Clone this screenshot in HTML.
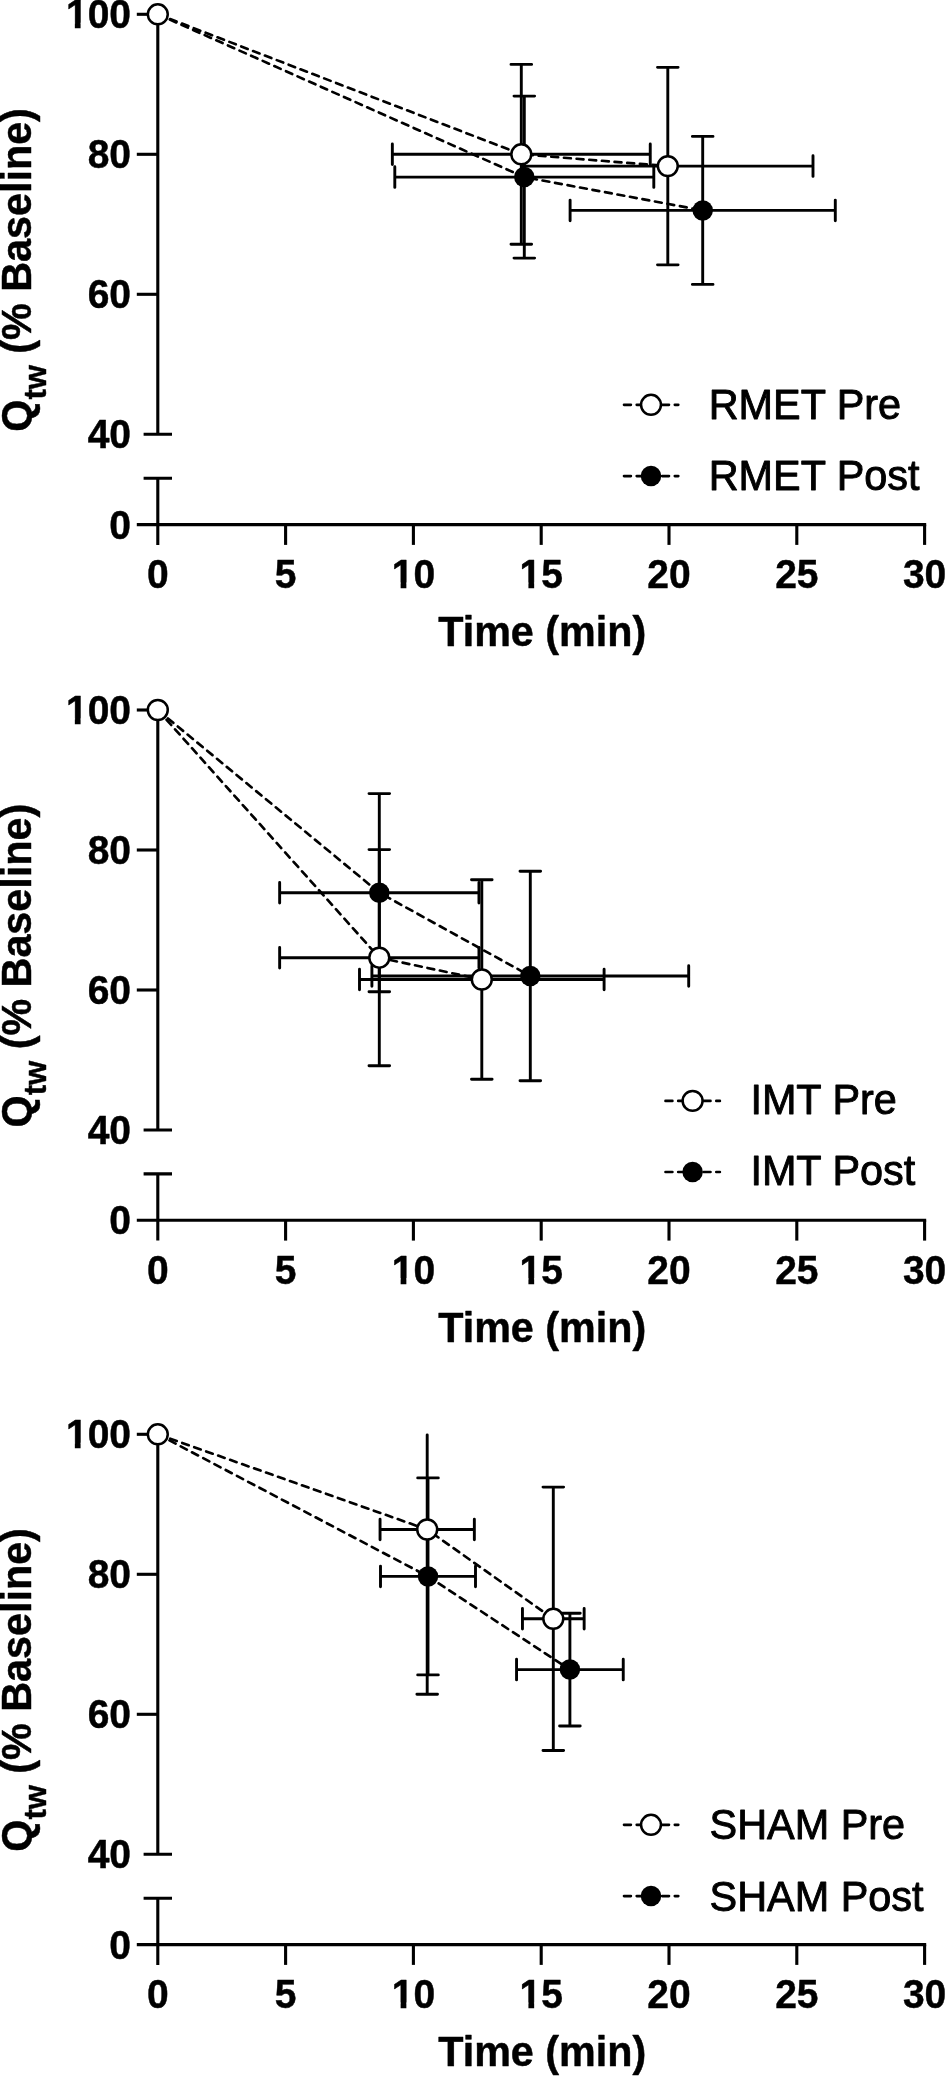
<!DOCTYPE html>
<html><head><meta charset="utf-8"><title>Qtw vs Time</title>
<style>html,body{margin:0;padding:0;background:#fff}svg{display:block;filter:grayscale(1)}text{font-family:"Liberation Sans",sans-serif;fill:#000;stroke:#000;stroke-width:0.9;stroke-linejoin:round}.b{font-weight:bold;stroke-width:0.45}.ax{stroke:#000;stroke-width:3.1;fill:none;stroke-linecap:butt}.eb{stroke:#000;stroke-width:2.9;fill:none;stroke-linecap:round}.dl{stroke:#000;stroke-width:2.65;fill:none;stroke-linecap:round;stroke-dasharray:6.9 5.8;stroke-dashoffset:-0.5}.oc{fill:#fff;stroke:#000;stroke-width:2.5}.fc{fill:#000;stroke:none}</style></head><body>
<svg width="945" height="2076" viewBox="0 0 945 2076">
<rect width="945" height="2076" fill="#fff"/>
<g transform="translate(0,0.00)">
<path class="ax" d="M136.8 524.60 H926.2"/>
<path class="ax" d="M157.8 14.3 V434.3 M157.8 478.2 V544.90"/>
<path class="ax" d="M143.6 434.3 H172 M143.6 478.2 H172"/>
<path class="ax" d="M136.8 14.30 H157.8"/>
<path class="ax" d="M136.8 154.30 H157.8"/>
<path class="ax" d="M136.8 294.30 H157.8"/>
<path class="ax" d="M285.60 524.60 V544.90"/>
<path class="ax" d="M413.40 524.60 V544.90"/>
<path class="ax" d="M541.20 524.60 V544.90"/>
<path class="ax" d="M669.00 524.60 V544.90"/>
<path class="ax" d="M796.80 524.60 V544.90"/>
<path class="ax" d="M924.60 524.60 V544.90"/>
<text transform="translate(131.00,28.20) scale(1,1.04)" font-size="39" text-anchor="end" class="b">100</text>
<text transform="translate(131.00,168.20) scale(1,1.04)" font-size="39" text-anchor="end" class="b">80</text>
<text transform="translate(131.00,308.20) scale(1,1.04)" font-size="39" text-anchor="end" class="b">60</text>
<text transform="translate(131.00,448.20) scale(1,1.04)" font-size="39" text-anchor="end" class="b">40</text>
<text transform="translate(131.00,538.50) scale(1,1.04)" font-size="39" text-anchor="end" class="b">0</text>
<text transform="translate(157.80,588.00) scale(1,1.04)" font-size="39" text-anchor="middle" class="b">0</text>
<text transform="translate(285.60,588.00) scale(1,1.04)" font-size="39" text-anchor="middle" class="b">5</text>
<text transform="translate(413.40,588.00) scale(1,1.04)" font-size="39" text-anchor="middle" class="b">10</text>
<text transform="translate(541.20,588.00) scale(1,1.04)" font-size="39" text-anchor="middle" class="b">15</text>
<text transform="translate(669.00,588.00) scale(1,1.04)" font-size="39" text-anchor="middle" class="b">20</text>
<text transform="translate(796.80,588.00) scale(1,1.04)" font-size="39" text-anchor="middle" class="b">25</text>
<text transform="translate(924.60,588.00) scale(1,1.04)" font-size="39" text-anchor="middle" class="b">30</text>
<text transform="translate(542.20,646.20) scale(1,1.04)" font-size="41.3" text-anchor="middle" class="b">Time (min)</text>
<rect x="66.59" y="22.76" width="8.25" height="7.24" fill="#fff"/>
<rect x="80.58" y="22.76" width="7.55" height="7.24" fill="#fff"/>
<rect x="392.37" y="582.56" width="8.25" height="7.24" fill="#fff"/>
<rect x="406.36" y="582.56" width="7.55" height="7.24" fill="#fff"/>
<rect x="520.17" y="582.56" width="8.25" height="7.24" fill="#fff"/>
<rect x="534.16" y="582.56" width="7.55" height="7.24" fill="#fff"/>
<text class="b" transform="translate(31.3,431.7) rotate(-90) scale(1,1.04)" font-size="41.3">Q<tspan font-size="31" dy="13.8">tw</tspan><tspan dy="-13.8"> (% Baseline)</tspan></text>
<path class="eb" d="M524.30 96.10 V258.10 M514.00 96.10 H534.60 M514.00 258.10 H534.60 M394.80 177.10 H653.80 M394.80 166.80 V187.40 M653.80 166.80 V187.40"/>
<path class="eb" d="M702.70 136.40 V284.40 M692.40 136.40 H713.00 M692.40 284.40 H713.00 M570.10 210.40 H835.30 M570.10 200.10 V220.70 M835.30 200.10 V220.70"/>
<path class="eb" d="M521.30 64.40 V244.20 M511.00 64.40 H531.60 M511.00 244.20 H531.60 M392.35 154.30 H650.25 M392.35 144.00 V164.60 M650.25 144.00 V164.60"/>
<path class="eb" d="M667.80 67.35 V264.85 M657.50 67.35 H678.10 M657.50 264.85 H678.10 M522.60 166.10 H813.00 M522.60 155.80 V176.40 M813.00 155.80 V176.40"/>
<polyline class="dl" points="157.80,14.30 524.30,177.10 702.70,210.40"/>
<polyline class="dl" points="157.80,14.30 521.30,154.30 667.80,166.10"/>
<circle class="fc" cx="157.80" cy="14.30" r="10.25"/>
<circle class="fc" cx="524.30" cy="177.10" r="10.25"/>
<circle class="fc" cx="702.70" cy="210.40" r="10.25"/>
<circle class="oc" cx="157.80" cy="14.30" r="9.95"/>
<circle class="oc" cx="521.30" cy="154.30" r="9.95"/>
<circle class="oc" cx="667.80" cy="166.10" r="9.95"/>
<path class="dl" d="M623.50 404.80 H678.30"/>
<circle class="oc" cx="651.00" cy="404.80" r="9.95"/>
<path class="dl" d="M623.50 476.10 H678.30"/>
<circle class="fc" cx="651.00" cy="476.10" r="10.25"/>
<text transform="translate(708.70,419.10) scale(1,1.04)" font-size="41.4" text-anchor="start">RMET Pre</text>
<text transform="translate(708.70,490.10) scale(1,1.04)" font-size="41.4" text-anchor="start">RMET Post</text>
</g>
<g transform="translate(0,695.70)">
<path class="ax" d="M136.8 524.60 H926.2"/>
<path class="ax" d="M157.8 14.3 V434.3 M157.8 478.2 V544.90"/>
<path class="ax" d="M143.6 434.3 H172 M143.6 478.2 H172"/>
<path class="ax" d="M136.8 14.30 H157.8"/>
<path class="ax" d="M136.8 154.30 H157.8"/>
<path class="ax" d="M136.8 294.30 H157.8"/>
<path class="ax" d="M285.60 524.60 V544.90"/>
<path class="ax" d="M413.40 524.60 V544.90"/>
<path class="ax" d="M541.20 524.60 V544.90"/>
<path class="ax" d="M669.00 524.60 V544.90"/>
<path class="ax" d="M796.80 524.60 V544.90"/>
<path class="ax" d="M924.60 524.60 V544.90"/>
<text transform="translate(131.00,28.20) scale(1,1.04)" font-size="39" text-anchor="end" class="b">100</text>
<text transform="translate(131.00,168.20) scale(1,1.04)" font-size="39" text-anchor="end" class="b">80</text>
<text transform="translate(131.00,308.20) scale(1,1.04)" font-size="39" text-anchor="end" class="b">60</text>
<text transform="translate(131.00,448.20) scale(1,1.04)" font-size="39" text-anchor="end" class="b">40</text>
<text transform="translate(131.00,538.50) scale(1,1.04)" font-size="39" text-anchor="end" class="b">0</text>
<text transform="translate(157.80,588.00) scale(1,1.04)" font-size="39" text-anchor="middle" class="b">0</text>
<text transform="translate(285.60,588.00) scale(1,1.04)" font-size="39" text-anchor="middle" class="b">5</text>
<text transform="translate(413.40,588.00) scale(1,1.04)" font-size="39" text-anchor="middle" class="b">10</text>
<text transform="translate(541.20,588.00) scale(1,1.04)" font-size="39" text-anchor="middle" class="b">15</text>
<text transform="translate(669.00,588.00) scale(1,1.04)" font-size="39" text-anchor="middle" class="b">20</text>
<text transform="translate(796.80,588.00) scale(1,1.04)" font-size="39" text-anchor="middle" class="b">25</text>
<text transform="translate(924.60,588.00) scale(1,1.04)" font-size="39" text-anchor="middle" class="b">30</text>
<text transform="translate(542.20,646.20) scale(1,1.04)" font-size="41.3" text-anchor="middle" class="b">Time (min)</text>
<rect x="66.59" y="22.76" width="8.25" height="7.24" fill="#fff"/>
<rect x="80.58" y="22.76" width="7.55" height="7.24" fill="#fff"/>
<rect x="392.37" y="582.56" width="8.25" height="7.24" fill="#fff"/>
<rect x="406.36" y="582.56" width="7.55" height="7.24" fill="#fff"/>
<rect x="520.17" y="582.56" width="8.25" height="7.24" fill="#fff"/>
<rect x="534.16" y="582.56" width="7.55" height="7.24" fill="#fff"/>
<text class="b" transform="translate(31.3,431.7) rotate(-90) scale(1,1.04)" font-size="41.3">Q<tspan font-size="31" dy="13.8">tw</tspan><tspan dy="-13.8"> (% Baseline)</tspan></text>
<path class="eb" d="M379.30 97.90 V296.10 M369.00 97.90 H389.60 M369.00 296.10 H389.60 M279.65 197.00 H478.95 M279.65 186.70 V207.30 M478.95 186.70 V207.30"/>
<path class="eb" d="M530.30 175.55 V385.05 M520.00 175.55 H540.60 M520.00 385.05 H540.60 M371.90 280.30 H688.70 M371.90 270.00 V290.60 M688.70 270.00 V290.60"/>
<path class="eb" d="M379.30 153.90 V370.10 M369.00 153.90 H389.60 M369.00 370.10 H389.60 M279.65 262.00 H478.95 M279.65 251.70 V272.30 M478.95 251.70 V272.30"/>
<path class="eb" d="M481.80 184.00 V383.60 M471.50 184.00 H492.10 M471.50 383.60 H492.10 M359.50 283.80 H604.10 M359.50 273.50 V294.10 M604.10 273.50 V294.10"/>
<polyline class="dl" points="157.80,14.30 379.30,197.00 530.30,280.30"/>
<polyline class="dl" points="157.80,14.30 379.30,262.00 481.80,283.80"/>
<circle class="fc" cx="157.80" cy="14.30" r="10.25"/>
<circle class="fc" cx="379.30" cy="197.00" r="10.25"/>
<circle class="fc" cx="530.30" cy="280.30" r="10.25"/>
<circle class="oc" cx="157.80" cy="14.30" r="9.95"/>
<circle class="oc" cx="379.30" cy="262.00" r="9.95"/>
<circle class="oc" cx="481.80" cy="283.80" r="9.95"/>
<path class="dl" d="M665.00 405.20 H719.90"/>
<circle class="oc" cx="692.60" cy="405.20" r="9.95"/>
<path class="dl" d="M665.00 476.30 H719.90"/>
<circle class="fc" cx="692.60" cy="476.30" r="10.25"/>
<text transform="translate(750.40,418.60) scale(1,1.04)" font-size="41.4" text-anchor="start">IMT Pre</text>
<text transform="translate(750.40,489.60) scale(1,1.04)" font-size="41.4" text-anchor="start">IMT Post</text>
</g>
<g transform="translate(0,1420.00)">
<path class="ax" d="M136.8 524.60 H926.2"/>
<path class="ax" d="M157.8 14.3 V434.3 M157.8 478.2 V544.90"/>
<path class="ax" d="M143.6 434.3 H172 M143.6 478.2 H172"/>
<path class="ax" d="M136.8 14.30 H157.8"/>
<path class="ax" d="M136.8 154.30 H157.8"/>
<path class="ax" d="M136.8 294.30 H157.8"/>
<path class="ax" d="M285.60 524.60 V544.90"/>
<path class="ax" d="M413.40 524.60 V544.90"/>
<path class="ax" d="M541.20 524.60 V544.90"/>
<path class="ax" d="M669.00 524.60 V544.90"/>
<path class="ax" d="M796.80 524.60 V544.90"/>
<path class="ax" d="M924.60 524.60 V544.90"/>
<text transform="translate(131.00,28.20) scale(1,1.04)" font-size="39" text-anchor="end" class="b">100</text>
<text transform="translate(131.00,168.20) scale(1,1.04)" font-size="39" text-anchor="end" class="b">80</text>
<text transform="translate(131.00,308.20) scale(1,1.04)" font-size="39" text-anchor="end" class="b">60</text>
<text transform="translate(131.00,448.20) scale(1,1.04)" font-size="39" text-anchor="end" class="b">40</text>
<text transform="translate(131.00,538.50) scale(1,1.04)" font-size="39" text-anchor="end" class="b">0</text>
<text transform="translate(157.80,588.00) scale(1,1.04)" font-size="39" text-anchor="middle" class="b">0</text>
<text transform="translate(285.60,588.00) scale(1,1.04)" font-size="39" text-anchor="middle" class="b">5</text>
<text transform="translate(413.40,588.00) scale(1,1.04)" font-size="39" text-anchor="middle" class="b">10</text>
<text transform="translate(541.20,588.00) scale(1,1.04)" font-size="39" text-anchor="middle" class="b">15</text>
<text transform="translate(669.00,588.00) scale(1,1.04)" font-size="39" text-anchor="middle" class="b">20</text>
<text transform="translate(796.80,588.00) scale(1,1.04)" font-size="39" text-anchor="middle" class="b">25</text>
<text transform="translate(924.60,588.00) scale(1,1.04)" font-size="39" text-anchor="middle" class="b">30</text>
<text transform="translate(542.20,646.20) scale(1,1.04)" font-size="41.3" text-anchor="middle" class="b">Time (min)</text>
<rect x="66.59" y="22.76" width="8.25" height="7.24" fill="#fff"/>
<rect x="80.58" y="22.76" width="7.55" height="7.24" fill="#fff"/>
<rect x="392.37" y="582.56" width="8.25" height="7.24" fill="#fff"/>
<rect x="406.36" y="582.56" width="7.55" height="7.24" fill="#fff"/>
<rect x="520.17" y="582.56" width="8.25" height="7.24" fill="#fff"/>
<rect x="534.16" y="582.56" width="7.55" height="7.24" fill="#fff"/>
<text class="b" transform="translate(31.3,431.7) rotate(-90) scale(1,1.04)" font-size="41.3">Q<tspan font-size="31" dy="13.8">tw</tspan><tspan dy="-13.8"> (% Baseline)</tspan></text>
<path class="eb" d="M428.00 57.90 V254.90 M417.70 57.90 H438.30 M417.70 254.90 H438.30 M380.50 156.40 H475.50 M380.50 146.10 V166.70 M475.50 146.10 V166.70"/>
<path class="eb" d="M569.90 193.20 V306.00 M559.60 193.20 H580.20 M559.60 306.00 H580.20 M516.55 249.60 H623.25 M516.55 239.30 V259.90 M623.25 239.30 V259.90"/>
<path class="eb" d="M427.20 14.85 V274.30 M416.90 274.30 H437.50 M380.05 109.50 H474.35 M380.05 99.20 V119.80 M474.35 99.20 V119.80"/>
<path class="eb" d="M553.30 67.10 V330.50 M543.00 67.10 H563.60 M543.00 330.50 H563.60 M522.45 198.80 H584.15 M522.45 188.50 V209.10 M584.15 188.50 V209.10"/>
<polyline class="dl" points="157.80,14.30 428.00,156.40 569.90,249.60"/>
<polyline class="dl" points="157.80,14.30 427.20,109.50 553.30,198.80"/>
<circle class="fc" cx="157.80" cy="14.30" r="10.25"/>
<circle class="fc" cx="428.00" cy="156.40" r="10.25"/>
<circle class="fc" cx="569.90" cy="249.60" r="10.25"/>
<circle class="oc" cx="157.80" cy="14.30" r="9.95"/>
<circle class="oc" cx="427.20" cy="109.50" r="9.95"/>
<circle class="oc" cx="553.30" cy="198.80" r="9.95"/>
<path class="dl" d="M623.50 404.80 H678.30"/>
<circle class="oc" cx="651.00" cy="404.80" r="9.95"/>
<path class="dl" d="M623.50 476.10 H678.30"/>
<circle class="fc" cx="651.00" cy="476.10" r="10.25"/>
<text transform="translate(709.60,418.50) scale(1,1.04)" font-size="41.4" text-anchor="start">SHAM Pre</text>
<text transform="translate(709.60,490.50) scale(1,1.04)" font-size="41.4" text-anchor="start">SHAM Post</text>
</g>
</svg></body></html>
